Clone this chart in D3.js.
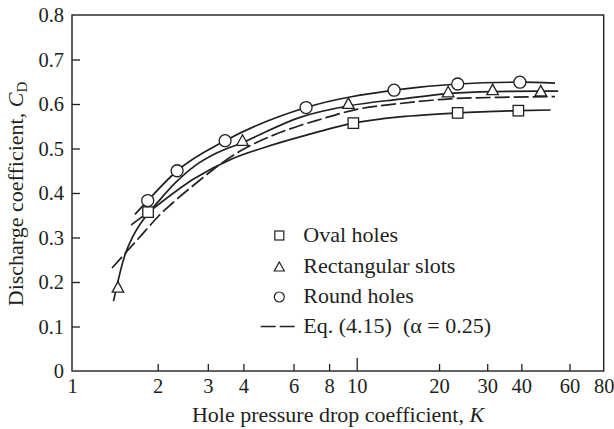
<!DOCTYPE html>
<html>
<head>
<meta charset="utf-8">
<script src="https://cdn.jsdelivr.net/npm/d3@7"></script>
<style>
  html, body { margin: 0; padding: 0; background: #fff; }
  svg { display: block; }
  text { font-family: "Liberation Serif", "Times New Roman", serif; fill: #231f20; }
</style>
</head>
<body>
<svg id="chart" width="614" height="429"></svg>
<script>
// Measured points (hole pressure drop coefficient K, discharge coefficient CD)
const ovalK   = [1.85, 9.73, 23.4, 39.0];
const ovalCD  = [0.357, 0.557, 0.580, 0.585];
const rectK   = [1.45, 3.97, 9.35, 21.6, 31.4, 47.1];
const rectCD  = [0.189, 0.519, 0.602, 0.628, 0.633, 0.630];
const roundK  = [1.845, 2.34, 3.45, 6.64, 13.7, 23.4, 39.5];
const roundCD = [0.383, 0.450, 0.5175, 0.592, 0.631, 0.645, 0.649];

// Faired curves through each data set
const ovalCurveK   = [1.612, 1.854, 2.70, 3.69, 4.83, 6.32, 9.73, 14.4, 23.4, 39.0, 51.2];
const ovalCurveCD  = [0.328, 0.357, 0.433, 0.478, 0.504, 0.526, 0.557, 0.571, 0.580, 0.585, 0.5865];
const rectCurveK   = [1.399, 1.433, 1.480, 1.535, 1.638, 1.834, 2.005, 2.30, 2.70, 3.18, 3.96, 6.32, 9.40, 14.4, 21.6, 31.4, 47.1, 54.5];
const rectCurveCD  = [0.157, 0.187, 0.225, 0.261, 0.303, 0.351, 0.380, 0.422, 0.461, 0.488, 0.513, 0.570, 0.596, 0.611, 0.6235, 0.628, 0.629, 0.629];
const roundCurveK  = [1.664, 1.845, 2.34, 3.45, 6.64, 13.7, 23.4, 39.5, 53.1];
const roundCurveCD = [0.352, 0.383, 0.450, 0.5175, 0.592, 0.631, 0.645, 0.649, 0.647];

// Eq. (4.15) with alpha = 0.25
const eqK  = [1.382, 1.535, 1.705, 1.879, 2.038, 2.245, 2.816, 3.102, 3.955, 4.688, 6.322, 7.43, 10, 14.4, 21.9, 33.4, 53.1];
const eqCD = [0.2315, 0.264, 0.2966, 0.327, 0.3517, 0.3764, 0.4292, 0.4506, 0.4966, 0.5202, 0.5517, 0.5652, 0.5881, 0.6011, 0.6117, 0.615, 0.6164];

// Axis ticks
const xTicks = [1, 2, 3, 4, 6, 8, 10, 20, 30, 40, 60, 80];
const yTicks = [0, 0.1, 0.2, 0.3, 0.4, 0.5, 0.6, 0.7, 0.8];

const legendLabels = ["Oval holes", "Rectangular slots", "Round holes", "Eq. (4.15)  (\u03b1 = 0.25)"];

const ink = "#231f20";
const plotLeft = 72, plotRight = 603.7, plotTop = 15, plotBottom = 371;

const svg = d3.select("#chart");

const x = d3.scaleLog().domain([1, 10, 80]).range([plotLeft, 356.7, plotRight]);
const y = d3.scaleLinear().domain([0, 0.8]).range([plotBottom, plotTop]);

// Axes with inward ticks
const xAxis = svg.append("g")
  .attr("transform", `translate(0,${plotBottom})`)
  .call(d3.axisBottom(x).tickValues(xTicks).tickFormat(d3.format("d"))
    .tickSize(-7).tickPadding(7.5));
xAxis.select(".domain").remove();
xAxis.selectAll(".tick line")
  .attr("stroke", ink).attr("stroke-width", 1.3)
  .attr("y2", d => d === 10 ? -13 : -7)
  .attr("display", d => (d === 1 || d === 80) ? "none" : null);
xAxis.selectAll(".tick text").attr("font-size", 20.5).attr("fill", ink)
  .style("font-family", "'Liberation Serif', serif");

const yAxis = svg.append("g")
  .attr("transform", `translate(${plotLeft},0)`)
  .call(d3.axisLeft(y).tickValues(yTicks).tickFormat(d => d === 0 ? "0" : d3.format(".1f")(d))
    .tickSize(-8).tickPadding(8));
yAxis.select(".domain").remove();
yAxis.selectAll(".tick line").attr("stroke", ink).attr("stroke-width", 1.3)
  .attr("display", d => (d === 0 || d === 0.8) ? "none" : null);
yAxis.selectAll(".tick text").attr("font-size", 20.5).attr("fill", ink)
  .style("font-family", "'Liberation Serif', serif");

// Frame
svg.append("rect")
  .attr("x", plotLeft).attr("y", plotTop)
  .attr("width", plotRight - plotLeft).attr("height", plotBottom - plotTop)
  .attr("fill", "none").attr("stroke", ink).attr("stroke-width", 1.4);

// Curves
const line = d3.line()
  .x(d => x(d[0])).y(d => y(d[1]))
  .curve(d3.curveMonotoneX);
const zip = (a, b) => a.map((v, i) => [v, b[i]]);

const curves = [
  { pts: zip(roundCurveK, roundCurveCD), dash: null },
  { pts: zip(rectCurveK, rectCurveCD), dash: null },
  { pts: zip(ovalCurveK, ovalCurveCD), dash: null },
  { pts: zip(eqK, eqCD), dash: "15,4" }
];
svg.append("g").selectAll("path").data(curves).join("path")
  .attr("d", d => line(d.pts))
  .attr("fill", "none")
  .attr("stroke", ink)
  .attr("stroke-width", 1.7)
  .attr("stroke-dasharray", d => d.dash);

// Marker shapes
function square(g, cx, cy, s) {
  g.append("rect").attr("x", cx - s / 2).attr("y", cy - s / 2)
    .attr("width", s).attr("height", s);
}
function triangle(g, cx, cy, w, h) {
  g.append("path").attr("d",
    `M${cx},${cy - h / 2}L${cx + w / 2},${cy + h / 2}L${cx - w / 2},${cy + h / 2}Z`);
}
function circle(g, cx, cy, r) {
  g.append("circle").attr("cx", cx).attr("cy", cy).attr("r", r);
}

const marks = svg.append("g")
  .attr("fill", "#fff").attr("stroke", ink).attr("stroke-width", 1.3);
ovalK.forEach((k, i) => square(marks, x(k), y(ovalCD[i]), 10.5));
rectK.forEach((k, i) => triangle(marks, x(k), y(rectCD[i]), 11.5, 10.5));
roundK.forEach((k, i) => circle(marks, x(k), y(roundCD[i]), 6));

// Legend
const leg = svg.append("g");
const legSym = leg.append("g").attr("fill", "#fff").attr("stroke", ink).attr("stroke-width", 1.2);
const symX = 279.3, textX = 303.3;
const baselines = [241.5, 272.5, 302.8, 333.3];
square(legSym, symX, baselines[0] - 6, 9);
triangle(legSym, symX, baselines[1] - 6, 10, 9);
circle(legSym, symX, baselines[2] - 5.8, 5);
leg.append("line")
  .attr("x1", 260.7).attr("x2", 294.7)
  .attr("y1", baselines[3] - 6.8).attr("y2", baselines[3] - 6.8)
  .attr("stroke", ink).attr("stroke-width", 1.7)
  .attr("stroke-dasharray", "15,4");
leg.selectAll("text").data(legendLabels).join("text")
  .attr("x", textX)
  .attr("y", (d, i) => baselines[i])
  .attr("font-size", 22)
  .style("white-space", "pre")
  .text(d => d);

// Axis titles
const xt = svg.append("text")
  .attr("x", 338).attr("y", 422)
  .attr("text-anchor", "middle")
  .attr("font-size", 22);
xt.append("tspan").text("Hole pressure drop coefficient, ");
xt.append("tspan").attr("font-style", "italic").text("K");

const yt = svg.append("text")
  .attr("transform", "translate(23,194) rotate(-90)")
  .attr("text-anchor", "middle")
  .attr("font-size", 22);
yt.append("tspan").text("Discharge coefficient, ");
yt.append("tspan").attr("font-style", "italic").text("C");
yt.append("tspan").attr("font-size", 15).attr("dy", 4).text("D");
</script>
</body>
</html>
